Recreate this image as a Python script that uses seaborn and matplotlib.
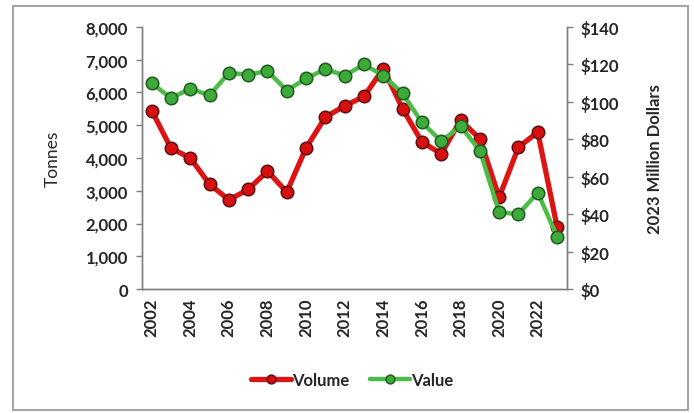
import matplotlib
matplotlib.use("Agg")
import matplotlib.pyplot as plt
from matplotlib.patches import Rectangle
from matplotlib.ticker import FuncFormatter, FixedLocator
import seaborn as sns
import pandas as pd

years = list(range(2002, 2024))
volume_tonnes = [5450, 4300, 4000, 3200, 2720, 3040, 3600, 2960, 4310, 5250, 5590,
                 5880, 6730, 5500, 4490, 4130, 5150, 4590, 2800, 4330, 4790, 1900]
value_musd = [110, 102, 107, 103.5, 115.5, 114.5, 116.5, 106, 112.5, 117.5, 114,
              120, 114, 104.5, 89, 79, 87, 74, 41, 40, 51.5, 28]

df = pd.DataFrame({"Year": years, "Volume": volume_tonnes, "Value": value_musd})

sns.set_theme(style="white")
plt.rcParams["font.family"] = ["Lato", "DejaVu Sans"]

fig = plt.figure(figsize=(6.94, 4.14), dpi=100)
ax = fig.add_axes([0.2046, 0.2995, 0.612, 0.6329])
ax2 = ax.twinx()

red = "#DD1414"
green = "#4CBB47"

sns.lineplot(data=df, x="Year", y="Volume", ax=ax, color=red, linewidth=3.8,
             marker="o", markersize=9, markerfacecolor="#D90F0F",
             markeredgecolor="#5A1010", markeredgewidth=1.1, label="Volume",
             legend=False, zorder=3)
sns.lineplot(data=df, x="Year", y="Value", ax=ax2, color=green, linewidth=3.2,
             marker="o", markersize=9, markerfacecolor="#3DAA3A",
             markeredgecolor="#1F5A1F", markeredgewidth=1.1, label="Value",
             legend=False, zorder=3)

ax.set_xlim(2001.5, 2023.5)
ax.set_ylim(0, 8000)
ax2.set_ylim(0, 140)
ax.set_yticks(range(0, 8001, 1000))
ax2.set_yticks(range(0, 141, 20))
ax.yaxis.set_major_formatter(FuncFormatter(lambda v, p: f"{int(v):,}"))
ax2.yaxis.set_major_formatter(FuncFormatter(lambda v, p: f"${int(v)}"))

label_years = years[::2]
ax.set_xticks(label_years)
ax.set_xticklabels([str(y) for y in label_years], rotation=90)
ax.xaxis.set_minor_locator(FixedLocator([y - 0.5 for y in years] + [years[-1] + 0.5]))
ax.tick_params(axis="x", which="major", length=0, pad=6)
ax.tick_params(axis="x", which="minor", length=4, width=1, color="#7F7F7F", direction="out")
ax.tick_params(axis="y", length=4, width=1, color="#7F7F7F", direction="out", pad=6)
ax2.tick_params(axis="y", length=4, width=1, color="#7F7F7F", direction="out", pad=6)

for a in (ax, ax2):
    for lbl in a.get_yticklabels() + a.get_xticklabels():
        lbl.set_fontsize(12)
        lbl.set_fontweight("bold")
        lbl.set_color("#262626")
    a.spines["top"].set_visible(False)
    for s in ("left", "right", "bottom"):
        a.spines[s].set_color("#7F7F7F")
        a.spines[s].set_linewidth(1)

ax.set_xlabel("")
ax.set_ylabel("Tonnes", fontsize=12.5, color="#262626", labelpad=18)
ax2.set_ylabel("2023 Million Dollars", fontsize=12, fontweight="bold",
               color="#262626", labelpad=20)

handles = ax.get_lines()[:1] + ax2.get_lines()[:1]
leg = fig.legend(handles, ["Volume", "Value"], loc="center", ncol=2,
                 bbox_to_anchor=(352 / 694, 1 - 381 / 414), frameon=False,
                 handlelength=2.4, handletextpad=0.1, columnspacing=1.2,
                 markerscale=0.7, prop={"size": 12, "weight": "bold"})
for t in leg.get_texts():
    t.set_color("#262626")

fig.patches.append(Rectangle((13 / 694, 1 - 411 / 414), 675 / 694, 404 / 414,
                             transform=fig.transFigure, fill=False,
                             edgecolor="#A6A6A6", linewidth=1.5))

fig.savefig("out.png", dpi=100)
